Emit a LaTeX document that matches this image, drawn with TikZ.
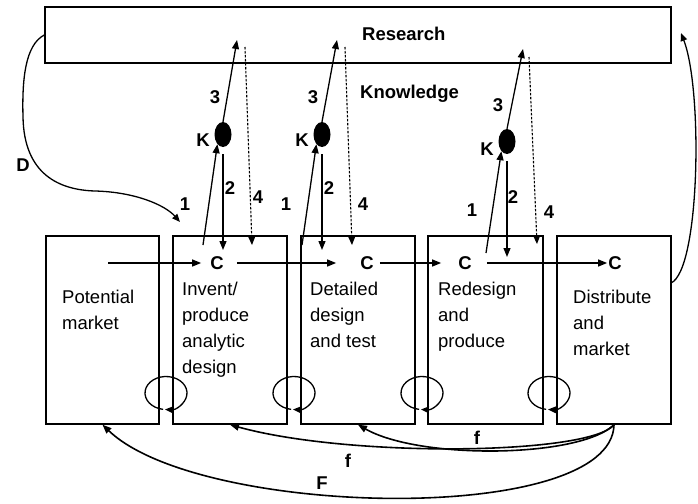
\documentclass[tikz,border=0pt]{standalone}
\usepackage{fontspec}
\setmainfont{Liberation Sans}
\usetikzlibrary{arrows.meta,shapes.geometric}
\begin{document}
\begin{tikzpicture}[x=1pt,y=-1pt,
  box/.style={draw,line width=1.4pt,inner sep=0pt},
  lbl/.style={font=\fontsize{18.5}{26}\selectfont\bfseries,inner sep=0pt},
  txt/.style={font=\fontsize{18.5}{26}\selectfont,inner sep=0pt,align=left,anchor=north west},
  arr/.style={line width=1.3pt,-{Triangle[length=9pt,width=7pt]}},
  darr/.style={line width=1.1pt,dash pattern=on 2.5pt off 1.5pt,-{Triangle[length=8pt,width=6.5pt]}},
  barr/.style={line width=1.6pt,-{Triangle[length=9pt,width=7pt]}},
  larr/.style={line width=1.3pt,-{Triangle[length=8pt,width=6.5pt]}},
  kdot/.style={ellipse,fill=black,minimum width=17pt,minimum height=25pt,inner sep=0pt},
]
\useasboundingbox (0,0) rectangle (698,503);

% boxes
\node[box,minimum width=626pt,minimum height=56pt] (research) at (358,35) {};
\node[box,minimum width=113pt,minimum height=188pt] (b1) at (102.5,330) {};
\node[box,minimum width=114pt,minimum height=188pt] (b2) at (230,330) {};
\node[box,minimum width=114pt,minimum height=188pt] (b3) at (358,330) {};
\node[box,minimum width=115pt,minimum height=188pt] (b4) at (485.5,330) {};
\node[box,minimum width=114pt,minimum height=188pt] (b5) at (614,330) {};

% texts
\node[lbl,anchor=base west] (restxt) at (362,41) {Research};
\node[lbl,anchor=base west] (knowtxt) at (360,98) {Knowledge};
\node[txt] (t1) at (62,289.5) {Potential\\market};
\node[txt] (t2) at (182,281.5) {Invent/\\produce\\analytic\\design};
\node[txt] (t3) at (310,281.5) {Detailed\\design\\and test};
\node[txt] (t4) at (438,281.5) {Redesign\\and\\produce};
\node[txt] (t5) at (573,289.5) {Distribute\\and\\market};

% C labels
\node[lbl] (c1) at (217,263) {C};
\node[lbl] (c2) at (367,263) {C};
\node[lbl] (c3) at (465,263) {C};
\node[lbl] (c4) at (615,263) {C};

\coordinate (s0) at (108,263);
\draw[arr,shorten >=9pt] (s0) -- (c1.west);
\draw[arr,shorten <=13pt,shorten >=24pt] (c1.east) -- (c2.west);
\draw[arr,shorten <=6pt,shorten >=17pt] (c2.east) -- (c3.west);
\draw[arr,shorten <=15pt,shorten >=1pt] (c3.east) -- (c4.west);

% K dots
\node[kdot] (k1) at (223,134.5) {};
\node[kdot] (k2) at (322,134.5) {};
\node[kdot] (k3) at (507,141.5) {};
\node[lbl] (k1l) at (203,140) {K};
\node[lbl] (k2l) at (302,140) {K};
\node[lbl] (k3l) at (487,149) {K};

% arrows 3 (to research)
\coordinate (r1) at (237,40);
\coordinate (r2) at (337,40);
\coordinate (r3) at (523,49);
\draw[arr] (k1.north) -- (r1);
\draw[arr] (k2.north) -- (r2);
\draw[arr] (k3.north) -- (r3);

% dashed arrows 4
\coordinate (d1s) at (245,47); \coordinate (d1e) at (252,245);
\coordinate (d2s) at (345,47); \coordinate (d2e) at (352,245);
\coordinate (d3s) at (529,57); \coordinate (d3e) at (537,244);
\draw[darr] (d1s) -- (d1e);
\draw[darr] (d2s) -- (d2e);
\draw[darr] (d3s) -- (d3e);

% arrows 2 (down)
\coordinate (e1) at (223,250);
\coordinate (e2) at (322,250);
\coordinate (e3) at (507,257);
\draw[arr,shorten <=7pt] (k1.south) -- (e1);
\draw[arr,shorten <=7pt] (k2.south) -- (e2);
\draw[arr,shorten <=7pt] (k3.south) -- (e3);

% arrows 1 (up)
\coordinate (u1) at (203,245);
\coordinate (u2) at (302,245);
\coordinate (u3) at (486,253);
\draw[arr] (u1) -- (k1.240);
\draw[arr] (u2) -- (k2.240);
\draw[arr] (u3) -- (k3.240);

% number labels
\node[lbl] (n1a) at (185,204) {1};
\node[lbl] (n1b) at (286,204) {1};
\node[lbl] (n1c) at (472,210) {1};
\node[lbl] (n2a) at (230,188) {2};
\node[lbl] (n2b) at (329,188) {2};
\node[lbl] (n2c) at (513,197) {2};
\node[lbl] (n3a) at (215,97) {3};
\node[lbl] (n3b) at (313,97) {3};
\node[lbl] (n3c) at (498,105) {3};
\node[lbl] (n4a) at (258,197) {4};
\node[lbl] (n4b) at (363,204) {4};
\node[lbl] (n4c) at (549,212) {4};

% D curve
\coordinate (dtip) at (180,222);
\draw[larr] (research.west) .. controls (25,45) and (22,80) .. (23,117)
   .. controls (24,175) and (60,190) .. (95,191)
   .. controls (135,192) and (165,205) .. (dtip);
\node[lbl] (dl) at (23,165) {D};

% right curve
\coordinate (rs) at (671,283);
\coordinate (rt) at (681,33);
\draw[larr] (rs) .. controls (700,270) and (703,90) .. (rt);

% loops between boxes
\coordinate (lp1) at (166,393);
\coordinate (lp2) at (294,393);
\coordinate (lp3) at (422,393);
\coordinate (lp4) at (549,393);
\foreach \p in {lp1,lp2,lp3,lp4}{
  \draw[line width=1.3pt,-{Triangle[length=8pt,width=6.5pt]}] (\p) ++(622:21pt and 16.5pt)
     arc[start angle=622,end angle=267,x radius=21pt,y radius=16.5pt];
}

% bottom feedback
\draw[barr] (b5.south) .. controls (590,455) and (350,458) .. (b2.south);
\draw[barr] (b5.south) .. controls (580,458) and (420,460) .. (b3.south);
\draw[barr] (b5.south) .. controls (612,526) and (200,518) .. (b1.south);
\node[lbl] (fl1) at (477,438) {f};
\node[lbl] (fl2) at (348,461) {f};
\node[lbl] (Fl) at (322,483) {F};
\end{tikzpicture}
\end{document}
